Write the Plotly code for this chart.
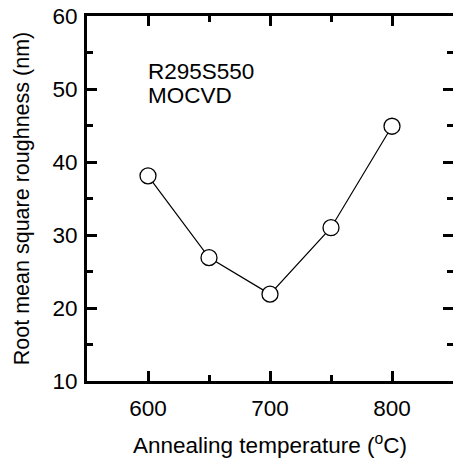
import plotly.graph_objects as go

temperature = [600, 650, 700, 750, 800]
roughness = [38.1, 26.9, 21.9, 31.0, 44.9]

x_ticks = [600, 700, 800]
y_ticks = [10, 20, 30, 40, 50, 60]
label_lines = ["R295S550", "MOCVD"]

FONT = "Liberation Sans, Arial, sans-serif"
FS = 22.5

fig = go.Figure()
fig.add_trace(go.Scatter(
    x=temperature, y=roughness, mode="lines+markers",
    line=dict(color="black", width=1.2),
    marker=dict(symbol="circle", size=16, color="white",
                line=dict(color="black", width=1.3)),
    showlegend=False,
))

axis_common = dict(
    showline=True, linecolor="black", linewidth=3,
    showgrid=False, zeroline=False,
    ticks="inside", mirror="ticks", tickwidth=2.5, ticklen=10,
    tickcolor="black",
    tickfont=dict(family=FONT, size=FS, color="black"),
)

fig.update_xaxes(
    range=[550, 850], tickvals=x_ticks,
    ticktext=[str(v) for v in x_ticks],
    minor=dict(ticks="inside", dtick=50, tick0=550, ticklen=6,
               tickwidth=2.5, tickcolor="black"),
    title=dict(text="Annealing temperature (<sup>o</sup>C)",
               font=dict(family=FONT, size=FS, color="black"), standoff=18),
    ticklabelstandoff=5,
    **axis_common,
)
fig.update_yaxes(
    range=[10, 60], tickvals=y_ticks,
    ticktext=[str(v) for v in y_ticks],
    minor=dict(ticks="inside", dtick=5, tick0=10, ticklen=6,
               tickwidth=2.5, tickcolor="black"),
    title=dict(text="Root mean square roughness (nm)",
               font=dict(family=FONT, size=21.5, color="black"), standoff=17),
    ticklabelstandoff=2,
    **axis_common,
)

for i, line in enumerate(label_lines):
    fig.add_annotation(
        text=line, xref="paper", yref="paper",
        x=0.162, y=0.847 - i * 0.066, xanchor="left", yanchor="middle",
        align="left", showarrow=False,
        font=dict(family=FONT, size=FS, color="black"),
    )

fig.update_layout(
    width=456, height=458,
    margin=dict(l=87, r=0, t=16, b=77),
    plot_bgcolor="white", paper_bgcolor="white",
)

fig.write_html(
    "out.html",
    config={"displayModeBar": False},
    post_script="document.body.style.margin='0';"
                "document.body.style.overflow='hidden';",
)
